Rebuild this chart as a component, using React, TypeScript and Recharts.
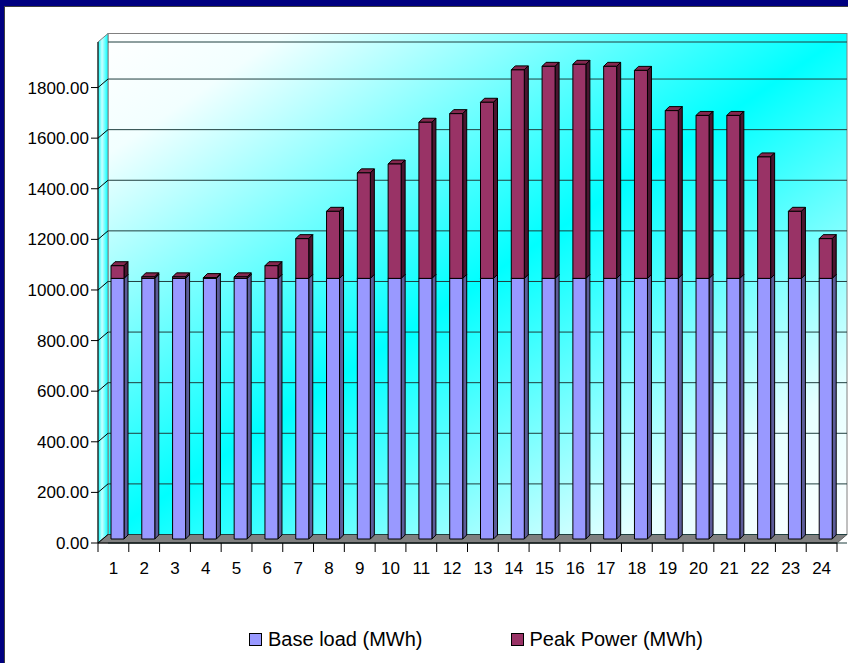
import { BarChart, Bar, XAxis, YAxis, CartesianGrid, Legend } from "recharts";

const hours = ["1", "2", "3", "4", "5", "6", "7", "8", "9", "10", "11", "12", "13", "14", "15", "16", "17", "18", "19", "20", "21", "22", "23", "24"];
const baseLoad = [1030, 1030, 1030, 1030, 1030, 1030, 1030, 1030, 1030, 1030, 1030, 1030, 1030, 1030, 1030, 1030, 1030, 1030, 1030, 1030, 1030, 1030, 1030, 1030];
const peakPower = [50, 6, 6, 3, 6, 50, 157, 265, 417, 452, 617, 651, 696, 824, 838, 846, 838, 822, 663, 644, 644, 480, 265, 157];
const yTicks = [0, 200, 400, 600, 800, 1000, 1200, 1400, 1600, 1800];

const data = hours.map((hour, i) => ({ hour, base: baseLoad[i], peak: peakPower[i] }));

const W = 848;
const H = 663;
const M = { top: 42, right: 11, bottom: 10, left: 18 };
const Y_AXIS_W = 80;
const X_AXIS_H = 82;
const LEGEND_H = 28;
const PLOT_L = M.left + Y_AXIS_W;
const PLOT_R = W - M.right;
const PLOT_T = M.top;
const PLOT_B = H - M.bottom - LEGEND_H - X_AXIS_H;
const DX = 10; // depth of the 3d box
const DY = 8.5;
const Y_MAX = 1980;
const BACK_SHIFT = (DY / (PLOT_B - PLOT_T)) * Y_MAX;
const BAND = (PLOT_R - PLOT_L) / hours.length;
const FONT = "'Liberation Sans', Arial, sans-serif";

function Box3D(props: any) {
  const { x, y, width, height, front, side, top } = props;
  if (width == null || height == null || isNaN(y)) return null;
  const d = 4;
  const fx = x + 4;
  const fy = y - 4;
  const w = width;
  const h = Math.max(height, 0);
  return (
    <g stroke="#000" strokeWidth={1} strokeLinejoin="round">
      <polygon points={`${fx},${fy} ${fx + d},${fy - d} ${fx + w + d},${fy - d} ${fx + w},${fy}`} fill={top} />
      <polygon points={`${fx + w},${fy} ${fx + w + d},${fy - d} ${fx + w + d},${fy + h - d} ${fx + w},${fy + h}`} fill={side} />
      <rect x={fx} y={fy} width={w} height={h} fill={front} />
    </g>
  );
}

function YTick(props: any) {
  const { x, y, payload } = props;
  return (
    <g>
      <line x1={x - 7} y1={y} x2={x} y2={y} stroke="#000" />
      <line x1={x} y1={y} x2={x + DX} y2={y - DY} stroke="#000" />
      <text x={x - 9} y={y + 6} textAnchor="end" fontSize={17} fontFamily={FONT} fill="#000">
        {Number(payload.value).toFixed(2)}
      </text>
    </g>
  );
}

function XTick(props: any) {
  const { x, y, payload, index } = props;
  return (
    <g>
      <line x1={x - BAND / 2} y1={y} x2={x - BAND / 2} y2={y + 9} stroke="#000" />
      {index === hours.length - 1 && <line x1={x + BAND / 2} y1={y} x2={x + BAND / 2} y2={y + 9} stroke="#000" />}
      <text x={x} y={y + 31} textAnchor="middle" fontSize={17} fontFamily={FONT} fill="#000">
        {payload.value}
      </text>
    </g>
  );
}

function LegendItem({ color, label, style }: { color: string; label: string; style?: any }) {
  return (
    <div style={{ display: "flex", alignItems: "center", ...style }}>
      <span style={{ width: 11, height: 11, background: color, border: "1px solid #000", marginRight: 6 }} />
      <span>{label}</span>
    </div>
  );
}

function LegendBox() {
  return (
    <div style={{ height: LEGEND_H, display: "flex", alignItems: "center", paddingLeft: 249, fontFamily: FONT, fontSize: 20, color: "#000" }}>
      <LegendItem color="#9999ff" label="Base load (MWh)" />
      <LegendItem color="#993366" label="Peak Power (MWh)" style={{ marginLeft: 88 }} />
    </div>
  );
}

function Walls() {
  return (
    <svg width={W} height={H} style={{ position: "absolute", left: 0, top: 0 }}>
      <defs>
        <linearGradient id="wallGrad" x1="0" y1="0" x2="1" y2="1">
          <stop offset="0" stopColor="#ffffff" />
          <stop offset="0.12" stopColor="#f2ffff" />
          <stop offset="0.5" stopColor="#00ffff" />
          <stop offset="0.85" stopColor="#e6ffff" />
          <stop offset="1" stopColor="#ffffff" />
        </linearGradient>
        <linearGradient id="sideGrad" x1="0" y1="0" x2="1" y2="0">
          <stop offset="0" stopColor="#00ffff" />
          <stop offset="0.4" stopColor="#ccffff" />
          <stop offset="1" stopColor="#00ffff" />
        </linearGradient>
      </defs>
      <rect x={0} y={0} width={W} height={H} fill="#000080" />
      <rect x={4.5} y={6.5} width={W} height={H} fill="#ffffff" stroke="#404040" />
      <rect x={PLOT_L + DX} y={PLOT_T - DY} width={PLOT_R - PLOT_L} height={PLOT_B - PLOT_T} fill="url(#wallGrad)" stroke="#808080" />
      <polygon
        points={`${PLOT_L},${PLOT_B} ${PLOT_L},${PLOT_T} ${PLOT_L + DX},${PLOT_T - DY} ${PLOT_L + DX},${PLOT_B - DY}`}
        fill="url(#sideGrad)"
        stroke="#808080"
      />
      <polygon
        points={`${PLOT_L},${PLOT_B} ${PLOT_R},${PLOT_B} ${PLOT_R + DX},${PLOT_B - DY} ${PLOT_L + DX},${PLOT_B - DY}`}
        fill="#808080"
        stroke="#606060"
      />
    </svg>
  );
}

export default function App() {
  return (
    <div style={{ position: "absolute", left: 0, top: 0, width: W, height: H, overflow: "hidden" }}>
      <Walls />
      <div style={{ position: "absolute", left: 0, top: 0 }}>
        <BarChart width={W} height={H} data={data} margin={M} barSize={13}>
          <CartesianGrid
            yAxisId="back"
            vertical={false}
            x={PLOT_L + DX}
            width={PLOT_R - PLOT_L}
            stroke="#1f3f3f"
            strokeWidth={1}
          />
          <XAxis
            dataKey="hour"
            interval={0}
            height={X_AXIS_H}
            tickLine={false}
            tickSize={0}
            tickMargin={0}
            axisLine={{ stroke: "#000" }}
            tick={<XTick />}
          />
          <YAxis
            domain={[0, Y_MAX]}
            ticks={yTicks}
            width={Y_AXIS_W}
            tickLine={false}
            tickSize={0}
            tickMargin={0}
            axisLine={{ stroke: "#000" }}
            tick={<YTick />}
            allowDataOverflow
          />
          <YAxis yAxisId="back" hide domain={[-BACK_SHIFT, Y_MAX - BACK_SHIFT]} ticks={yTicks} allowDataOverflow />
          <Legend verticalAlign="bottom" content={<LegendBox />} wrapperStyle={{ left: 0, width: W }} />
          <Bar
            dataKey="base"
            name="Base load (MWh)"
            stackId="a"
            fill="#9999ff"
            isAnimationActive={false}
            shape={(p: any) => <Box3D {...p} front="#9999ff" side="#5c5c99" top="#8080dd" />}
          />
          <Bar
            dataKey="peak"
            name="Peak Power (MWh)"
            stackId="a"
            fill="#993366"
            isAnimationActive={false}
            shape={(p: any) => <Box3D {...p} front="#993366" side="#4a1530" top="#84284f" />}
          />
        </BarChart>
      </div>
    </div>
  );
}
